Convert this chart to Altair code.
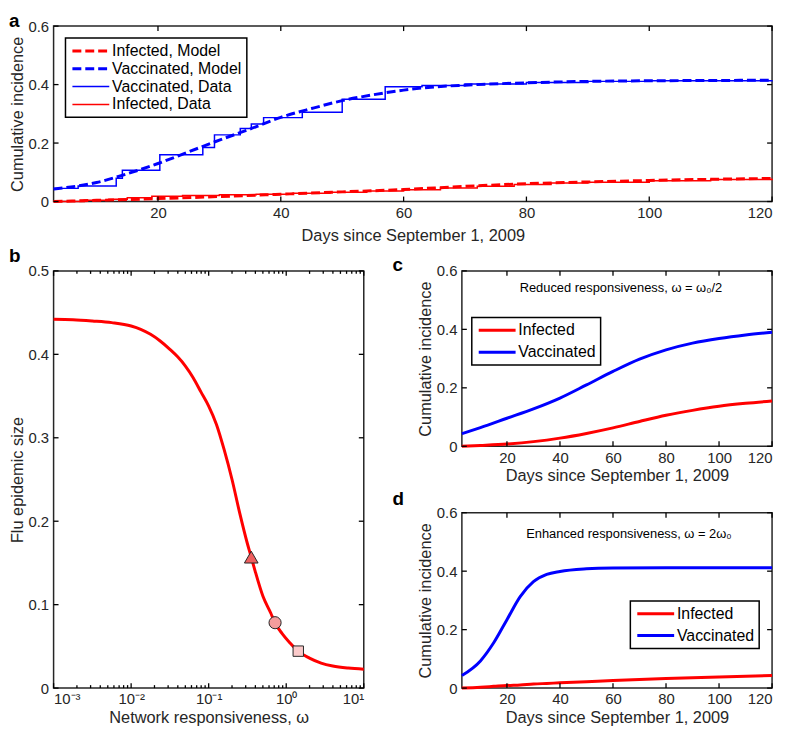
import altair as alt
import pandas as pd

FONT = "Liberation Sans"
INK = "#262626"
RED = "#ff0000"
BLUE = "#0000ff"

# ---------------- panel a : observed vs model ----------------
a_series = ["Infected, Model", "Vaccinated, Model", "Vaccinated, Data", "Infected, Data"]
a_colors = [RED, BLUE, BLUE, RED]
a_dashes = [[9, 4], [9, 4], [1, 0], [1, 0]]
a_widths = [3, 3, 1.5, 1.5]

a_vm_day = [3, 10, 15, 20, 25, 30, 35, 40, 45, 50, 55, 60, 65, 70, 80, 90, 100, 110, 120]
a_vm_val = [0.043, 0.065, 0.095, 0.130, 0.170, 0.210, 0.248, 0.288, 0.318, 0.345, 0.365,
            0.381, 0.392, 0.398, 0.406, 0.411, 0.413, 0.414, 0.415]

a_im_day = [3, 10, 20, 30, 40, 50, 60, 70, 80, 90, 100, 110, 120]
a_im_val = [0.000, 0.004, 0.010, 0.017, 0.025, 0.033, 0.041, 0.052, 0.061, 0.067, 0.072, 0.076, 0.079]

a_vd_day = [3, 7, 13.2, 14.2, 20.3, 27.3, 29.2, 33.4, 35.2, 37.2, 43.5, 50, 57, 63, 70, 80, 90, 100, 120]
a_vd_val = [0.045, 0.053, 0.080, 0.107, 0.160, 0.185, 0.228, 0.250, 0.265, 0.287, 0.305, 0.350,
            0.393, 0.397, 0.402, 0.407, 0.411, 0.413, 0.415]

a_id_day = [3, 8, 12, 15, 19, 24, 30, 36, 42, 48, 54, 60, 66, 72, 78, 84, 90, 100, 110, 120]
a_id_val = [0.000, 0.004, 0.008, 0.013, 0.018, 0.021, 0.023, 0.025, 0.028, 0.032, 0.036, 0.040,
            0.046, 0.052, 0.058, 0.063, 0.066, 0.071, 0.075, 0.079]

# ---------------- panel b : epidemic size vs responsiveness ----------------
b_omega = [0.001, 0.00178, 0.00316, 0.00562, 0.01, 0.0133, 0.0178, 0.0237, 0.0316, 0.0398,
           0.0501, 0.0631, 0.0794, 0.1, 0.126, 0.158, 0.200, 0.251, 0.316, 0.354, 0.398,
           0.501, 0.631, 0.718, 0.891, 1.122, 1.43, 1.995, 2.818, 3.981, 6.31, 10.0]
b_size = [0.442, 0.4415, 0.440, 0.438, 0.434, 0.430, 0.424, 0.416, 0.406, 0.397,
          0.386, 0.372, 0.355, 0.338, 0.316, 0.286, 0.250, 0.210, 0.173, 0.157, 0.140,
          0.110, 0.090, 0.078, 0.065, 0.054, 0.044, 0.036, 0.030, 0.0265, 0.024, 0.0226]
b_mark_omega = [0.354, 0.718, 1.43]
b_mark_size = [0.157, 0.0784, 0.0443]
b_mark_shape = ["triangle-up", "circle", "square"]
b_mark_fill = ["#ef5f5f", "#f49c9c", "#fbcaca"]
b_mark_area = [190, 150, 110]
b_major = [0.001, 0.01, 0.1, 1, 10]
b_major_labels = ["10⁻³", "10⁻²", "10⁻¹", "10⁰", "10¹"]
b_minor = [m * d for d in [0.001, 0.01, 0.1, 1] for m in range(2, 10)]
b_yticks = [0, 0.1, 0.2, 0.3, 0.4, 0.5]
b_xdomain = [0.001, 10]
b_ydomain = [0, 0.5]

# ---------------- panels c, d : scenarios ----------------
cd_series = ["Infected", "Vaccinated"]
c_day = [3, 10, 20, 30, 40, 50, 60, 70, 80, 90, 100, 110, 120]
c_inf = [0.000, 0.003, 0.008, 0.016, 0.028, 0.044, 0.063, 0.085, 0.106, 0.123, 0.137, 0.147, 0.155]
c_vac = [0.043, 0.064, 0.096, 0.128, 0.165, 0.210, 0.256, 0.298, 0.330, 0.353, 0.369, 0.381, 0.390]
c_note = "Reduced responsiveness, ω = ω₀/2"

d_day = [3, 10, 15, 20, 25, 30, 35, 40, 50, 60, 80, 100, 120]
d_inf = [0.000, 0.003, 0.006, 0.009, 0.011, 0.014, 0.016, 0.018, 0.022, 0.026, 0.033, 0.038, 0.043]
d_vac = [0.043, 0.093, 0.155, 0.234, 0.313, 0.364, 0.389, 0.399, 0.408, 0.411, 0.412, 0.412, 0.412]
d_note = "Enhanced responsiveness, ω = 2ω₀"

day_domain = [3, 120]
inc_domain = [0, 0.6]
day_ticks = [20, 40, 60, 80, 100, 120]
inc_ticks = [0, 0.2, 0.4, 0.6]
DAYS_TITLE = "Days since September 1, 2009"
INC_TITLE = "Cumulative incidence"

# legend line sample: unit path scaled by sqrt(size)/2
LEG_PATH = "M-1,0H5.2"
LEG_SIZE = 144
# inward tick glyphs (unit length, scaled by sqrt(size)/2)
TICK_UP, TICK_DOWN, TICK_RIGHT, TICK_LEFT = "M0,0V-1", "M0,0V1", "M0,0H1", "M0,0H-1"


def ax(orient, values, title, pad, **extra):
    kw = dict(orient=orient, values=values, domain=False, ticks=False, grid=False,
              labelFont=FONT, labelFontSize=15, labelColor=INK, labelPadding=pad,
              titleFont=FONT, titleFontSize=16.5, titleFontWeight="normal",
              titleColor=INK, titlePadding=3, minExtent=0)
    kw["title"] = title
    kw.update(extra)
    return alt.Axis(**kw)


def tick_layer(xscale, yscale, xs, ys, shape, size):
    df = pd.DataFrame({"tx": xs, "ty": ys})
    return alt.Chart(df).mark_point(shape=shape, size=size, filled=False, stroke="black",
                                    strokeWidth=1.3, opacity=1).encode(
        x=alt.X("tx:Q", scale=xscale, axis=None), y=alt.Y("ty:Q", scale=yscale, axis=None))


def inner_ticks(xscale, yscale, x_vals, y_edges, y_vals, x_edges, size=100):
    """MATLAB-like ticks drawn from the box edges inward."""
    layers = []
    if x_vals:
        layers.append(tick_layer(xscale, yscale, x_vals, [y_edges[0]] * len(x_vals), TICK_UP, size))
        layers.append(tick_layer(xscale, yscale, x_vals, [y_edges[1]] * len(x_vals), TICK_DOWN, size))
    if y_vals:
        layers.append(tick_layer(xscale, yscale, [x_edges[0]] * len(y_vals), y_vals, TICK_RIGHT, size))
        layers.append(tick_layer(xscale, yscale, [x_edges[1]] * len(y_vals), y_vals, TICK_LEFT, size))
    return layers


def letter(text, dx, offset):
    return alt.TitleParams(text=text, anchor="start", frame="group", dx=dx, offset=offset,
                           baseline="alphabetic", fontSize=19, fontWeight="bold",
                           font=FONT, color="black")


def series_enc(domain, colors, dashes, widths, legend):
    return dict(
        color=alt.Color("series:N", scale=alt.Scale(domain=domain, range=colors), legend=legend),
        strokeDash=alt.StrokeDash("series:N", scale=alt.Scale(domain=domain, range=dashes), legend=legend),
        strokeWidth=alt.StrokeWidth("series:N", scale=alt.Scale(type="ordinal", domain=domain, range=widths),
                                    legend=legend),
    )


def table(series, days, vals):
    return pd.DataFrame({"day": days, "val": vals, "series": series})


xs_day = alt.Scale(domain=day_domain, nice=False, zero=False)
ys_inc = alt.Scale(domain=inc_domain, nice=False)

legend_style = dict(title=None, symbolType=LEG_PATH, symbolSize=LEG_SIZE, labelFont=FONT,
                    labelFontSize=16, labelColor="black", strokeColor="black",
                    fillColor="white", cornerRadius=0, labelOffset=26)

# ---- panel a ----
df_a_model = pd.concat([table(a_series[0], a_im_day, a_im_val), table(a_series[1], a_vm_day, a_vm_val)])
df_a_data = pd.concat([table(a_series[2], a_vd_day, a_vd_val), table(a_series[3], a_id_day, a_id_val)])
a_legend = alt.Legend(orient="top-left", offset=12, padding=5, rowPadding=2, **legend_style)
a_enc = series_enc(a_series, a_colors, a_dashes, a_widths, a_legend)

a_model = alt.Chart(df_a_model).mark_line(interpolate="monotone").encode(
    x=alt.X("day:Q", scale=xs_day, axis=ax("bottom", day_ticks, DAYS_TITLE, 4, format="d",
                                           labelFlush=True, titlePadding=7)),
    y=alt.Y("val:Q", scale=ys_inc, axis=ax("left", inc_ticks, INC_TITLE, 5, format="~g")),
    **a_enc)
a_data = alt.Chart(df_a_data).mark_line(interpolate="step-after").encode(
    x=alt.X("day:Q", scale=xs_day, axis=None),
    y=alt.Y("val:Q", scale=ys_inc, axis=None),
    **a_enc)
panel_a = alt.layer(a_model, a_data,
                    *inner_ticks(xs_day, ys_inc, day_ticks, inc_domain, inc_ticks, day_domain)
                    ).resolve_axis(x="independent", y="independent").properties(
    width=725, height=177, title=letter("a", -45, -27))

# ---- panel b ----
df_b = pd.DataFrame({"omega": b_omega, "size": b_size})
df_bm = pd.DataFrame({"omega": b_mark_omega, "size": b_mark_size, "shape": b_mark_shape,
                      "fill": b_mark_fill, "area": b_mark_area})
xs_b = alt.Scale(type="log", domain=b_xdomain, nice=False)
ys_b = alt.Scale(domain=b_ydomain, nice=False)
b_label_expr = "[" + ",".join("'%s'" % s for s in b_major_labels) + "][indexof([" + \
    ",".join(str(v) for v in b_major) + "], datum.value)]"

b_line = alt.Chart(df_b).mark_line(color=RED, strokeWidth=3, interpolate="monotone").encode(
    x=alt.X("omega:Q", scale=xs_b, axis=ax("bottom", b_major, "Network responsiveness, ω", 4,
                                          labelExpr=b_label_expr)),
    y=alt.Y("size:Q", scale=ys_b, axis=ax("left", b_yticks, "Flu epidemic size", 5, format="~g")))
b_marks = alt.Chart(df_bm).mark_point(filled=True, stroke=INK, strokeWidth=1, opacity=1).encode(
    x=alt.X("omega:Q", scale=xs_b, axis=None),
    y=alt.Y("size:Q", scale=ys_b, axis=None),
    shape=alt.Shape("shape:N", scale=None),
    fill=alt.Fill("fill:N", scale=None),
    size=alt.Size("area:Q", scale=None))
panel_b = alt.layer(b_line,
                    *inner_ticks(xs_b, ys_b, b_major, b_ydomain, b_yticks, b_xdomain),
                    *inner_ticks(xs_b, ys_b, b_minor, b_ydomain, [], b_xdomain, size=36),
                    b_marks).resolve_axis(x="independent", y="independent").properties(
    width=313, height=421, title=letter("b", -45, -17))


# ---- panels c, d ----
def scenario(days, inf, vac, note, note_x, note_y, leg_x, leg_y, name, height, title_offset):
    df = pd.concat([table(cd_series[0], days, inf), table(cd_series[1], days, vac)])
    leg = alt.Legend(orient="none", legendX=leg_x, legendY=leg_y, symbolStrokeWidth=3,
                     padding=5, rowPadding=6, **legend_style)
    lines = alt.Chart(df).mark_line(strokeWidth=3, interpolate="monotone").encode(
        x=alt.X("day:Q", scale=xs_day, axis=ax("bottom", day_ticks, DAYS_TITLE, 4, format="d",
                                               labelFlush=True)),
        y=alt.Y("val:Q", scale=ys_inc, axis=ax("left", inc_ticks, INC_TITLE, 5, format="~g")),
        color=alt.Color("series:N", scale=alt.Scale(domain=cd_series, range=[RED, BLUE]), legend=leg))
    txt = alt.Chart(pd.DataFrame({"x": [note_x], "y": [note_y], "t": [note]})).mark_text(
        font=FONT, fontSize=13, color="black", align="center", baseline="middle").encode(
        x=alt.X("x:Q", scale=xs_day, axis=None),
        y=alt.Y("y:Q", scale=ys_inc, axis=None),
        text="t:N")
    return alt.layer(lines, *inner_ticks(xs_day, ys_inc, day_ticks, inc_domain, inc_ticks, day_domain),
                     txt).resolve_axis(x="independent", y="independent").properties(
        width=313, height=height, title=letter(name, -70, title_offset))


panel_c = scenario(c_day, c_inf, c_vac, c_note, 63, 0.54, 10, 47, "c", 177, -26)
panel_d = scenario(d_day, d_inf, d_vac, d_note, 66, 0.527, 170, 89, "d", 177, -18)

indep = dict(color="independent", strokeDash="independent", strokeWidth="independent")
right = alt.vconcat(panel_c, panel_d, spacing=67, bounds="flush").resolve_scale(**indep)
bottom = alt.hconcat(panel_b, right, spacing=99, bounds="flush").resolve_scale(**indep)
chart = alt.vconcat(panel_a, bottom, spacing=70, bounds="flush").resolve_scale(**indep).properties(
    padding=0).configure_view(stroke=INK, strokeWidth=1.5).configure_legend(strokeWidth=1.5)

chart.save("out.html", embed_options={"renderer": "svg", "actions": False})
